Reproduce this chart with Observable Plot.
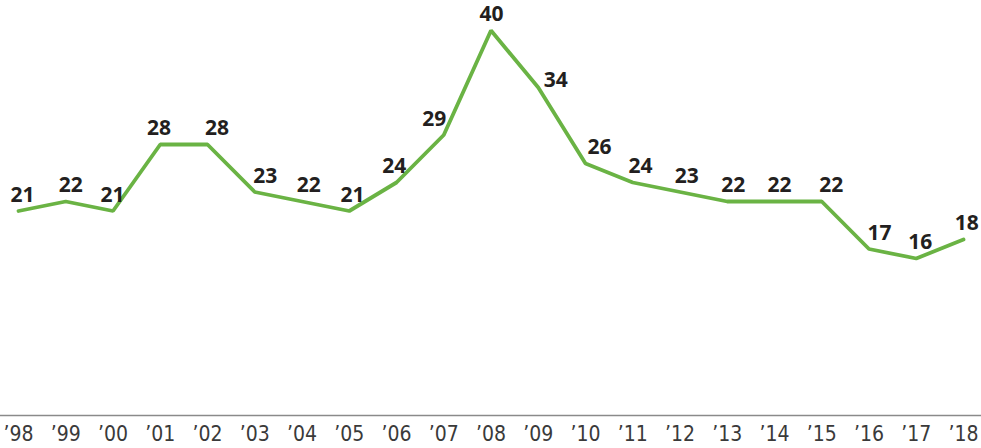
<!DOCTYPE html>
<html>
<head>
<meta charset="utf-8">
<script src="https://cdn.jsdelivr.net/npm/d3@7"></script>
<script src="https://cdn.jsdelivr.net/npm/@observablehq/plot@0.6"></script>
<style>
  html, body { margin: 0; padding: 0; background: #fff; }
  #chart svg { display: block; }
</style>
</head>
<body>
<div id="chart"></div>
<script>
const years = [1998,1999,2000,2001,2002,2003,2004,2005,2006,2007,2008,2009,2010,2011,2012,2013,2014,2015,2016,2017,2018];
const values = [21,22,21,28,28,23,22,21,24,29,40,34,26,24,23,22,22,22,17,16,18];

const data = years.map((year, i) => ({year, value: values[i]}));

// label offsets derived from local slope so labels sit beside the line
function slope(i) {
  const prev = values[Math.max(0, i - 1)];
  const next = values[Math.min(values.length - 1, i + 1)];
  return next - prev;
}
const labelData = data.map((d, i) => ({...d, s: slope(i)}));

const chart = Plot.plot({
  width: 981,
  height: 448,
  marginTop: 30,
  marginBottom: 38,
  marginLeft: 0,
  marginRight: 0,
  x: {domain: [1998, 2018], range: [18, 963], axis: null},
  y: {domain: [0, 40], axis: null},
  marks: [
    Plot.ruleY([0], {dy: 5, stroke: "#8a8a8a", strokeWidth: 1.5}),
    Plot.axisX(years, {
      label: null,
      tickSize: 0,
      tickPadding: 16,
      tickFormat: d => "\u2019" + String(d).slice(2),
      fontSize: 21,
      fill: "#3a3a3a",
      fontFamily: "'Liberation Sans Narrow', 'DejaVu Sans Condensed', sans-serif"
    }),
    Plot.line(data, {x: "year", y: "value", stroke: "#6ab344", strokeWidth: 3.8, strokeLinejoin: "miter"}),
    ...labelData.map(d => Plot.text([d], {
      x: "year",
      y: "value",
      text: d => String(d.value),
      dx: 5 - 0.9 * d.s,
      dy: d.s < -10 ? -7 : -16,
      fontSize: 21,
      fontWeight: 700,
      fill: "#231f20",
      fontFamily: "'Open Sans', 'Noto Sans', sans-serif"
    }))
  ]
});

document.getElementById("chart").appendChild(chart);
</script>
</body>
</html>
